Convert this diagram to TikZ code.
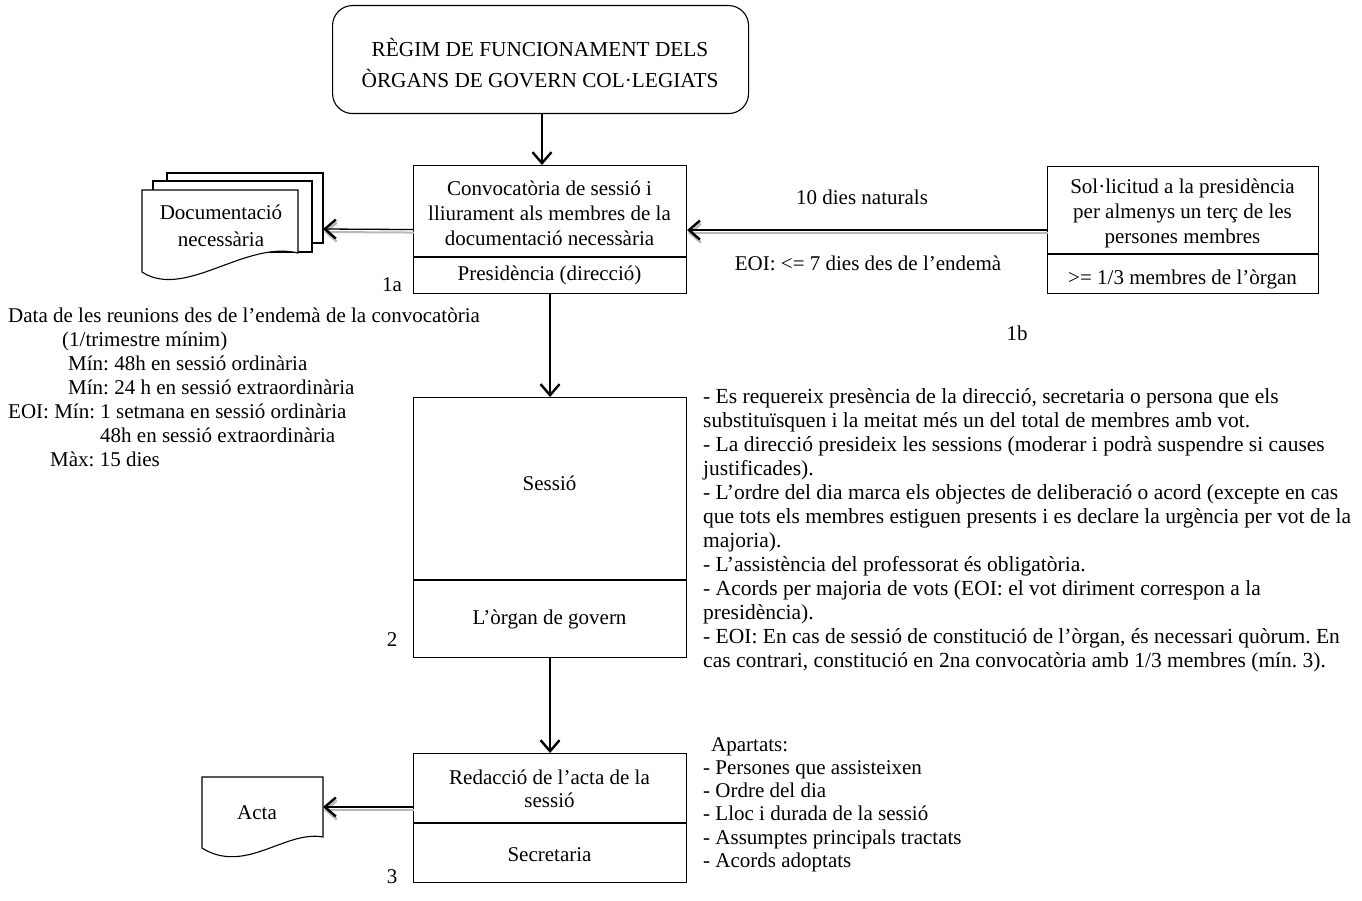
\documentclass[tikz,border=0pt]{standalone}
\usepackage{fontspec}
\setmainfont{Liberation Serif}
\usetikzlibrary{arrows.meta}
\frenchspacing
\begin{document}
\begin{tikzpicture}[x=1pt,y=-1pt,
  box/.style={draw, line width=1.1pt, fill=white, inner sep=0pt, anchor=north west},
  page/.style={draw, line width=1.1pt, fill=white},
  lbl/.style={inner sep=0pt, align=center, font=\fontsize{21}{24}\selectfont},
  note/.style={inner sep=0pt, align=left, anchor=north west, font=\fontsize{21}{24}\selectfont},
  arr/.style={line width=1.3pt, -{Straight Barb[length=11pt,width=19pt,line width=2.4pt]}},
  shd/.style={line width=2pt, draw=black!28, -{Straight Barb[length=11pt,width=19pt,line width=2.4pt]}}]
\useasboundingbox (0,0) rectangle (1362,901);

% ---- boxes ----
\node[box, rounded corners=20pt, minimum width=416pt, minimum height=108pt] (top) at (332,5) {};
\node[lbl, font=\fontsize{21.3}{31}\selectfont] (toptext) at (540,63.5) {RÈGIM DE FUNCIONAMENT DELS\\ÒRGANS DE GOVERN COL·LEGIATS};

\node[box, minimum width=273pt, minimum height=128pt] (c1) at (413,165) {};
\draw[line width=1.1pt] (413,257) -- (686,257);
\node[lbl, font=\fontsize{21}{25}\selectfont] (c1t) at (549.5,213) {Convocatòria de sessió i\\lliurament als membres de la\\documentació necessària};
\node[lbl] (c1b) at (549.5,275) {Presidència (direcció)};

\node[box, minimum width=271pt, minimum height=127pt] (r1) at (1047,166) {};
\draw[line width=1.1pt] (1047,254) -- (1318,254);
\node[lbl, font=\fontsize{21}{25}\selectfont] (r1t) at (1182.5,213.5) {Sol·licitud a la presidència\\per almenys un terç de les\\persones membres};
\node[lbl] (r1b) at (1182.5,279) {>= 1/3 membres de l’òrgan};

\node[box, minimum width=273pt, minimum height=260pt] (c2) at (413,397) {};
\draw[line width=1.1pt] (413,580) -- (686,580);
\node[lbl] (c2t) at (549.5,483) {Sessió};
\node[lbl] (c2b) at (549.5,619) {L’òrgan de govern};

\node[box, minimum width=273pt, minimum height=129pt] (c3) at (413,753) {};
\draw[line width=1.1pt] (413,823) -- (686,823);
\node[lbl, font=\fontsize{21}{23}\selectfont] (c3t) at (549.5,789) {Redacció de l’acta de la\\sessió};
\node[lbl] (c3b) at (549.5,855) {Secretaria};

% ---- documents ----
\draw[page] (167,173) rectangle (323,243);
\draw[page] (153,181) rectangle (312,252);
\draw[page] (142,190) -- (298,190) -- (298,253) .. controls (245,240) and (185,300) .. (142,272) -- cycle;
\node[lbl, font=\fontsize{21}{27}\selectfont] (doc) at (221,225.5) {Documentació\\necessària};
\coordinate (docR) at (323,229);

\draw[page] (202,777) -- (323,777) -- (323,837) .. controls (285,830) and (245,875) .. (202,848) -- cycle;
\node[lbl] (acta) at (257,813) {Acta};
\coordinate (actaR) at (323,807);

% ---- labels ----
\node[lbl] (l1a) at (392,285) {1a};
\node[lbl] (l1b) at (1017,333) {1b};
\node[lbl] (l2) at (392,640) {2};
\node[lbl] (l3) at (392,877) {3};
\node[lbl] (d10) at (862,197) {10 dies naturals};
\node[lbl] (deoi) at (868,263) {EOI: <= 7 dies des de l’endemà};

\node[note] (leftnote) at (8,308) {Data de les reunions des de l’endemà de la convocatòria\\
\hspace*{54pt}(1/trimestre mínim)\\
\hspace*{60pt}Mín: 48h en sessió ordinària\\
\hspace*{60pt}Mín: 24 h en sessió extraordinària\\
EOI: Mín: 1 setmana en sessió ordinària\\
\hspace*{92pt}48h en sessió extraordinària\\
\hspace*{42pt}Màx: 15 dies};

\node[note, font=\fontsize{21.5}{24}\selectfont] (rightnote) at (703,388) {- Es requereix presència de la direcció, secretaria o persona que els\\
substituïsquen i la meitat més un del total de membres amb vot.\\
- La direcció presideix les sessions (moderar i podrà suspendre si causes\\
justificades).\\
- L’ordre del dia marca els objectes de deliberació o acord (excepte en cas\\
que tots els membres estiguen presents i es declare la urgència per vot de la\\
majoria).\\
- L’assistència del professorat és obligatòria.\\
- Acords per majoria de vots (EOI: el vot diriment correspon a la\\
presidència).\\
- EOI: En cas de sessió de constitució de l’òrgan, és necessari quòrum. En\\
cas contrari, constitució en 2na convocatòria amb 1/3 membres (mín. 3).};

\node[note, font=\fontsize{21}{23.3}\selectfont] (apartats) at (703,737) {\hspace*{8pt}Apartats:\\
- Persones que assisteixen\\
- Ordre del dia\\
- Lloc i durada de la sessió\\
- Assumptes principals tractats\\
- Acords adoptats};

% ---- connectors ----
\draw[shd] ([shift={(1,3)}]r1.west) -- ([shift={(1,3)}]r1.west -| c1.east);
\draw[shd] ([shift={(1,3)}]c1.west) -- ([shift={(1,3)}]docR);
\draw[shd] ([shift={(1,3)}]actaR -| c3.west) -- ([shift={(1,3)}]actaR);

\draw[arr] (top.south -| 542,0) -- (c1.north -| 542,0);
\draw[arr] (c1.south) -- (c2.north);
\draw[arr] (c2.south) -- (c3.north);
\draw[arr] (r1.west) -- (r1.west -| c1.east);
\draw[arr] (c1.west) -- (docR);
\draw[arr] (actaR -| c3.west) -- (actaR);
\end{tikzpicture}
\end{document}
